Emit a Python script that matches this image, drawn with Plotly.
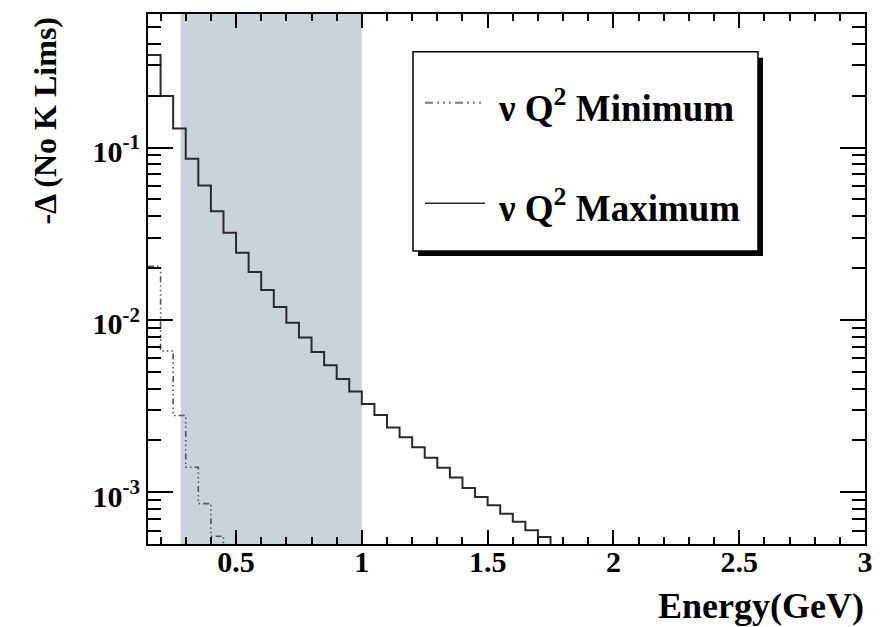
import math
import plotly.graph_objects as go

# ---- data ----
bin_width = 0.05
max_edges_start = 0.15
max_values = [0.344, 0.199, 0.129, 0.0861, 0.0603, 0.0427, 0.0320, 0.0245, 0.0190,
              0.0149, 0.0119, 0.00965, 0.0079, 0.00653, 0.00547, 0.00454, 0.00385,
              0.00326, 0.00281, 0.00238, 0.00209, 0.00183, 0.00159, 0.00139,
              0.00122, 0.00106, 0.000939, 0.000841, 0.000753, 0.000675, 0.000603,
              0.000552]
min_edges_start = 0.15
min_values = [0.0205, 0.00662, 0.00279, 0.00140, 0.000861, 0.000557]

band_lo, band_hi = 0.28, 1.0
x_range = [0.15, 3.0]
y_range = [5.02e-4, 0.595]

x_major = [0.5, 1.0, 1.5, 2.0, 2.5, 3.0]
x_major_text = ["0.5", "1", "1.5", "2", "2.5", "3"]
y_major = [1e-3, 1e-2, 1e-1]
y_major_text = ["10<sup>-3</sup>", "10<sup>-2</sup>", "10<sup>-1</sup>"]

legend_labels = ["ν Q<sup>2</sup> Minimum", "ν Q<sup>2</sup> Maximum"]
x_title = "Energy(GeV)"
y_title = "-Δ (No K Lims)"

FONT = "Liberation Serif, Times New Roman, serif"
FLOOR = 1e-5  # below the visible range: drop to the frame like ROOT


def step_xy(start, values):
    xs = [round(start + i * bin_width, 4) for i in range(len(values) + 1)]
    ys = list(values) + [FLOOR]
    return xs, ys


fig = go.Figure()

mx, my = step_xy(min_edges_start, min_values)
fig.add_trace(go.Scatter(x=mx, y=my, mode="lines", line_shape="hv",
                         line=dict(color="#555555", width=1.6,
                                   dash="6px,3px,1.5px,3px,1.5px,3px,1.5px,3px"),
                         name="Minimum", showlegend=False, hoverinfo="skip"))
Mx, My = step_xy(max_edges_start, max_values)
fig.add_trace(go.Scatter(x=Mx, y=My, mode="lines", line_shape="hv",
                         line=dict(color="#2a2a2a", width=2),
                         name="Maximum", showlegend=False, hoverinfo="skip"))

# shaded band
fig.add_shape(type="rect", xref="x", yref="y domain", x0=band_lo, x1=band_hi,
              y0=0, y1=1, fillcolor="#c9d3d9", line_width=0, layer="below")

# geometry helpers for the manual legend (pixels -> paper)
L, R, T, B = 148, 865, 12, 544
W, H = R - L, B - T


def px(x):
    return (x - L) / W


def py(y):
    return (B - y) / H


# legend shadow + box
fig.add_shape(type="rect", xref="paper", yref="paper", x0=px(418), x1=px(763),
              y0=py(255), y1=py(56), fillcolor="black", line_width=0, layer="above")
fig.add_shape(type="rect", xref="paper", yref="paper", x0=px(413), x1=px(758),
              y0=py(250), y1=py(50), fillcolor="white",
              line=dict(color="black", width=1.5), layer="above")
# legend line samples
fig.add_shape(type="line", xref="paper", yref="paper", x0=px(425), x1=px(485),
              y0=py(101), y1=py(101), layer="above",
              line=dict(color="#777777", width=2, dash="8px,4px,2px,4px,2px,4px,2px,4px"))
fig.add_shape(type="line", xref="paper", yref="paper", x0=px(425), x1=px(485),
              y0=py(202), y1=py(202), layer="above",
              line=dict(color="#2a2a2a", width=1.5))
for lab, yy in zip(legend_labels, [104, 204]):
    fig.add_annotation(text=lab, xref="paper", yref="paper", x=px(496), y=py(yy),
                       xanchor="left", yanchor="middle", showarrow=False,
                       font=dict(family=FONT, size=37, color="black", weight="bold"))

# axis titles
fig.add_annotation(text=x_title, xref="paper", yref="paper", x=px(866), y=py(606),
                   xanchor="right", yanchor="middle", showarrow=False,
                   font=dict(family=FONT, size=36, color="black", weight="bold"))
fig.add_annotation(text=y_title, xref="paper", yref="paper", x=px(45), y=py(119),
                   xanchor="center", yanchor="middle", showarrow=False, textangle=-90,
                   font=dict(family=FONT, size=32, color="black", weight="bold"))

x_minor = [round(0.2 + 0.1 * i, 2) for i in range(28)]
x_minor = [v for v in x_minor if all(abs(v - m) > 1e-6 for m in x_major)]
y_minor = [k * 10 ** e for e in (-4, -3, -2, -1) for k in range(2, 10)]

fig.update_xaxes(range=x_range, showgrid=False, zeroline=False,
                 showline=True, linecolor="black", linewidth=2, mirror="ticks",
                 ticks="inside", ticklen=14, tickwidth=2, tickcolor="black",
                 tickmode="array", tickvals=x_major, ticktext=x_major_text,
                 ticklabelstandoff=-10,
                 tickfont=dict(family=FONT, size=30, color="black", weight="bold"),
                 minor=dict(tickmode="array", tickvals=x_minor, ticks="inside",
                            ticklen=7, tickwidth=2, tickcolor="black", showgrid=False))
fig.update_yaxes(type="log", range=[math.log10(y_range[0]), math.log10(y_range[1])],
                 showgrid=False, zeroline=False,
                 showline=True, linecolor="black", linewidth=2, mirror="ticks",
                 ticks="inside", ticklen=25, tickwidth=2, tickcolor="black",
                 tickmode="array", tickvals=y_major, ticktext=y_major_text,
                 ticklabelshift=4,
                 tickfont=dict(family=FONT, size=30, color="black", weight="bold"),
                 minor=dict(tickmode="array", tickvals=y_minor, ticks="inside",
                            ticklen=13, tickwidth=2, tickcolor="black", showgrid=False))

fig.update_layout(width=894, height=627, margin=dict(l=L, r=894 - R, t=T, b=627 - B),
                  paper_bgcolor="white", plot_bgcolor="white", showlegend=False)

fig.write_html("out.html")
